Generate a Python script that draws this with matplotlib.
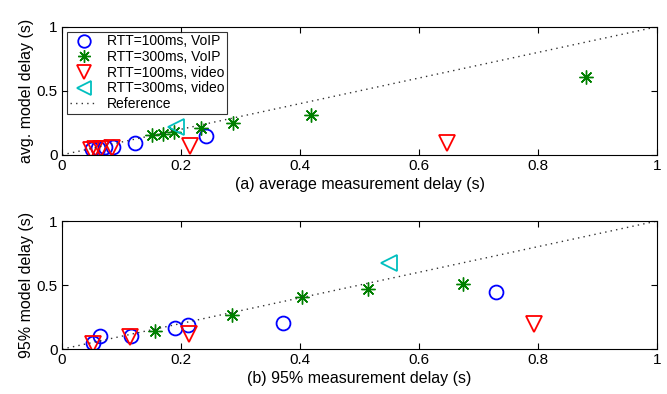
import matplotlib
matplotlib.use("Agg")
import matplotlib.pyplot as plt
import numpy as np

plt.rcParams['font.family'] = ['Liberation Sans', 'DejaVu Sans']

# (a) average delay
a_voip100_x = [0.050, 0.060, 0.072, 0.086, 0.123, 0.242]
a_voip100_y = [0.045, 0.050, 0.060, 0.065, 0.094, 0.148]
a_voip300_x = [0.151, 0.170, 0.188, 0.234, 0.287, 0.418, 0.881]
a_voip300_y = [0.156, 0.164, 0.180, 0.210, 0.250, 0.310, 0.605]
a_video100_x = [0.049, 0.056, 0.065, 0.084, 0.215, 0.647]
a_video100_y = [0.040, 0.042, 0.045, 0.055, 0.070, 0.092]
a_video300_x = [0.192]
a_video300_y = [0.215]

# (b) 95th percentile delay
b_voip100_x = [0.052, 0.064, 0.116, 0.190, 0.212, 0.371, 0.729]
b_voip100_y = [0.047, 0.100, 0.100, 0.164, 0.190, 0.200, 0.445]
b_voip300_x = [0.156, 0.286, 0.403, 0.514, 0.674]
b_voip300_y = [0.140, 0.265, 0.405, 0.470, 0.510]
b_video100_x = [0.052, 0.114, 0.213, 0.793]
b_video100_y = [0.040, 0.094, 0.117, 0.195]
b_video300_x = [0.550]
b_video300_y = [0.670]

labels = ['RTT=100ms, VoIP', 'RTT=300ms, VoIP', 'RTT=100ms, video',
          'RTT=300ms, video', 'Reference']
ticks = [0, 0.2, 0.4, 0.6, 0.8, 1]
tick_labels = ['0', '0.2', '0.4', '0.6', '0.8', '1']

fig = plt.figure(figsize=(6.67, 3.94), dpi=100)
ax1 = fig.add_axes([0.093, 0.607, 0.892, 0.325])
ax2 = fig.add_axes([0.093, 0.114, 0.892, 0.325])

star = (8, 2, 0)


def draw(ax, d, xlabel, ylabel):
    ax.plot(d[0], d[1], 'o', mfc='none', mec='#0000ff', mew=1.3, ms=10, label=labels[0])
    ax.plot(d[2], d[3], ls='none', marker=star, color='#008000', mew=1.0, ms=10, label=labels[1])
    ax.plot(d[4], d[5], 'v', mfc='none', mec='#ff0000', mew=1.3, ms=11, label=labels[2])
    ax.plot(d[6], d[7], '<', mfc='none', mec='#00bfbf', mew=1.3, ms=11, label=labels[3])
    ax.plot([0, 1], [0, 1], ls=(0, (1, 3)), color='#333333', lw=1.0, label=labels[4])
    ax.set_xlim(0, 1)
    ax.set_ylim(0, 1)
    ax.set_xticks(ticks)
    ax.set_xticklabels(tick_labels)
    ax.set_yticks([0, 0.5, 1])
    ax.set_yticklabels(['0', '0.5', '1'])
    ax.tick_params(direction='in', top=True, right=True, length=4, labelsize=11, pad=3)
    ax.set_xlabel(xlabel, fontsize=11.5, labelpad=3)
    ax.set_ylabel(ylabel, fontsize=11.5, labelpad=2)
    for s in ax.spines.values():
        s.set_linewidth(0.8)


draw(ax1, [a_voip100_x, a_voip100_y, a_voip300_x, a_voip300_y,
           a_video100_x, a_video100_y, a_video300_x, a_video300_y],
     '(a) average measurement delay (s)', 'avg. model delay (s)')
draw(ax2, [b_voip100_x, b_voip100_y, b_voip300_x, b_voip300_y,
           b_video100_x, b_video100_y, b_video300_x, b_video300_y],
     '(b) 95% measurement delay (s)', '95% model delay (s)')

leg = ax1.legend(loc='upper left', fontsize=10, frameon=True, fancybox=False,
                 edgecolor='black', borderpad=0.2, labelspacing=0.12,
                 handletextpad=0.7, handlelength=2.0, borderaxespad=0.35,
                 markerscale=0.9)
leg.get_frame().set_linewidth(0.8)

fig.savefig('out.png', dpi=100)
